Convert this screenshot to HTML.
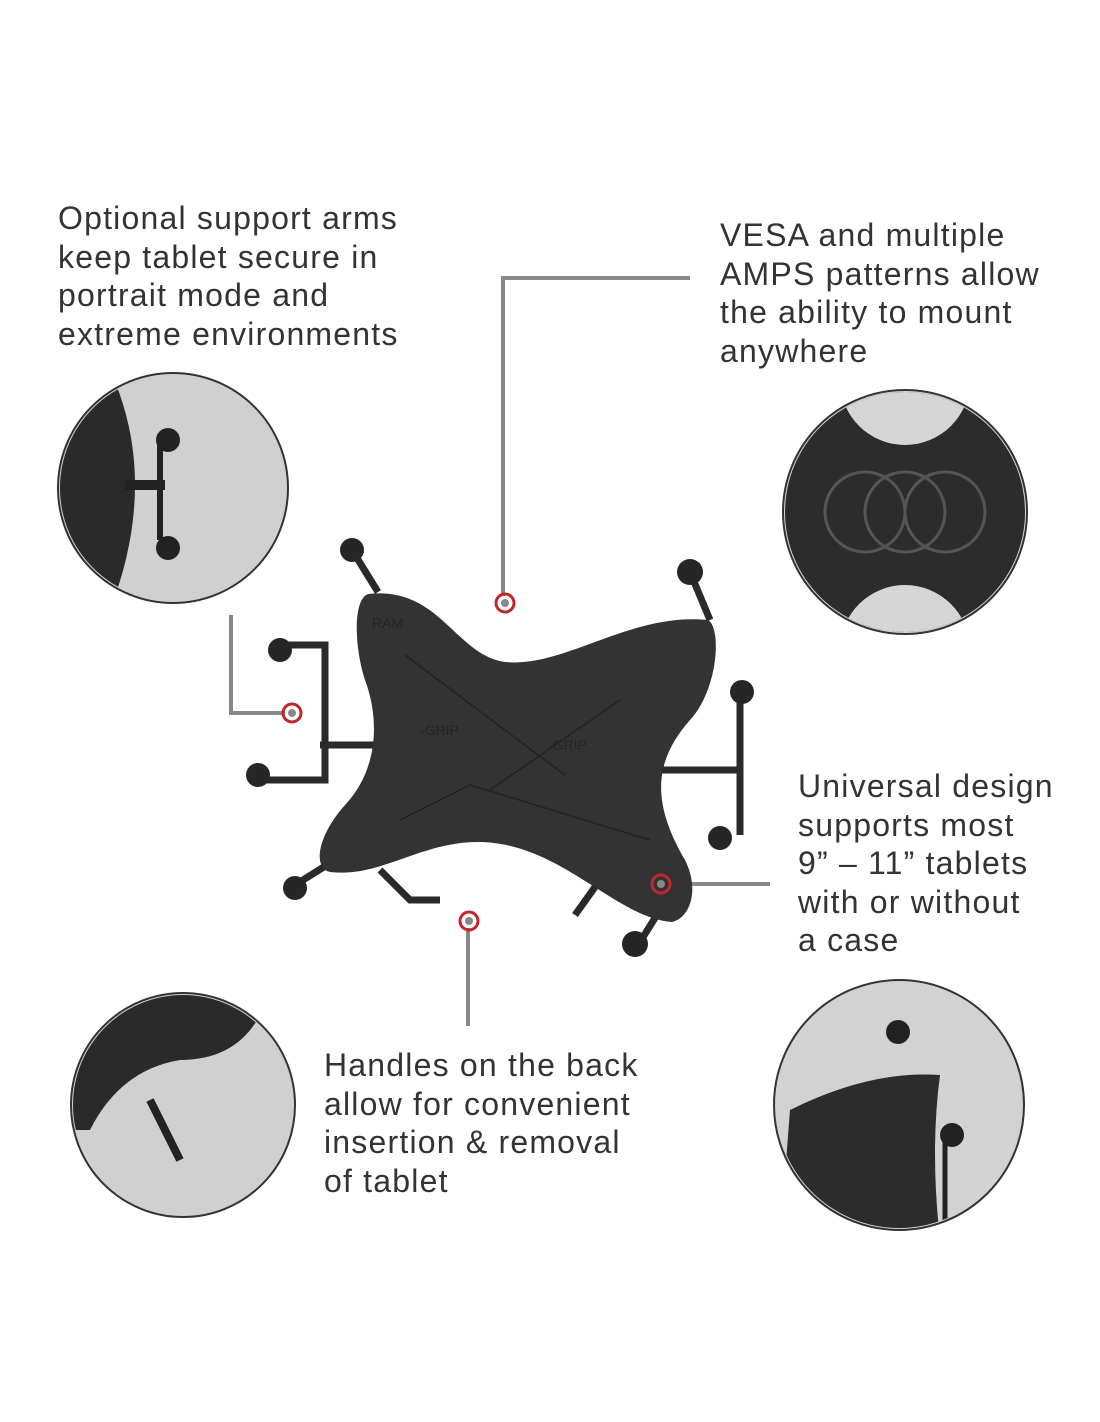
<!DOCTYPE html>
<html><head><meta charset="utf-8"><style>
body{margin:0;background:#fff;}
.w{position:relative;width:1100px;height:1422px;overflow:hidden;font-family:"Liberation Sans",Arial,sans-serif;}
.t{position:absolute;font-size:32px;letter-spacing:1.2px;line-height:38.5px;color:#333;}
</style></head><body><div class="w">
<div class="t" style="left:58px;top:199px">Optional support arms<br>keep tablet secure in<br>portrait mode and<br>extreme environments</div>
<div class="t" style="left:720px;top:216px">VESA and multiple<br>AMPS patterns allow<br>the ability to mount<br>anywhere</div>
<div class="t" style="left:798px;top:767px">Universal design<br>supports most<br>9” – 11” tablets<br>with or without<br>a case</div>
<div class="t" style="left:324px;top:1046px">Handles on the back<br>allow for convenient<br>insertion &amp; removal<br>of tablet</div>
<svg width="1100" height="1422" style="position:absolute;left:0;top:0">
<defs><clipPath id="c1"><circle cx="173" cy="488" r="113"/></clipPath>
<clipPath id="c2"><circle cx="905" cy="512" r="120"/></clipPath>
<clipPath id="c3"><circle cx="183" cy="1105" r="110"/></clipPath>
<clipPath id="c4"><circle cx="899" cy="1105" r="123"/></clipPath></defs>
<g stroke="#888" stroke-width="4" fill="none">
<path d="M690 278H503V596"/><path d="M231 615V713H285"/><path d="M668 884H770"/><path d="M468 928V1026"/>
</g>
<circle cx="173" cy="488" r="115" fill="#d0d0d0" stroke="#333" stroke-width="2"/>
<g clip-path="url(#c1)"><path d="M50 370H110Q160 480 110 610H50Z" fill="#2a2a2a"/>
<rect x="125" y="480" width="40" height="10" fill="#222"/><path d="M160 440V540" stroke="#222" stroke-width="6"/>
<circle cx="168" cy="440" r="12" fill="#222"/><circle cx="168" cy="548" r="12" fill="#222"/></g>
<circle cx="905" cy="512" r="122" fill="#d5d5d5" stroke="#333" stroke-width="2"/>
<g clip-path="url(#c2)"><rect x="780" y="390" width="250" height="250" fill="#2c2c2c"/>
<circle cx="905" cy="380" r="65" fill="#d5d5d5"/><circle cx="905" cy="650" r="65" fill="#d5d5d5"/>
<g fill="none" stroke="#555" stroke-width="3"><circle cx="865" cy="512" r="40"/><circle cx="945" cy="512" r="40"/><circle cx="905" cy="512" r="40"/></g></g>
<circle cx="183" cy="1105" r="112" fill="#d0d0d0" stroke="#333" stroke-width="2"/>
<g clip-path="url(#c3)"><path d="M70 990H270Q250 1060 180 1060Q120 1070 90 1130L70 1130Z" fill="#2a2a2a"/>
<path d="M150 1100L180 1160" stroke="#222" stroke-width="8"/></g>
<circle cx="899" cy="1105" r="125" fill="#d2d2d2" stroke="#333" stroke-width="2"/>
<g clip-path="url(#c4)"><path d="M790 1110Q870 1070 940 1075Q930 1150 940 1240H780Z" fill="#2c2c2c"/>
<circle cx="898" cy="1032" r="12" fill="#222"/><circle cx="952" cy="1135" r="12" fill="#222"/>
<path d="M945 1140V1230" stroke="#222" stroke-width="5"/></g>
<g stroke="#2a2a2a" stroke-width="7" fill="none">
<path d="M352 550L378 592"/><path d="M690 572L710 620"/>
<path d="M280 645H325V780H258"/><path d="M740 695V835"/>
<path d="M295 885L335 860"/><path d="M638 945L660 910"/>
<path d="M320 745H380"/><path d="M655 770H740"/>
<path d="M380 870L410 900H440"/><path d="M600 880L575 915"/>
</g>
<g fill="#262626">
<circle cx="352" cy="550" r="12"/><circle cx="690" cy="572" r="13"/>
<circle cx="280" cy="650" r="12"/><circle cx="258" cy="775" r="12"/>
<circle cx="742" cy="692" r="12"/><circle cx="720" cy="838" r="12"/>
<circle cx="295" cy="888" r="12"/><circle cx="635" cy="944" r="13"/>
</g>
<path d="M368 594C440 586 455 655 505 662C565 668 630 612 708 620C722 628 718 690 690 720C655 760 650 800 685 860C700 890 690 918 672 922C615 918 560 842 478 842C420 842 380 878 330 872C312 868 318 835 345 805C378 770 380 720 365 680C355 650 352 600 368 594Z" fill="#333"/>
<g stroke="#222" stroke-width="1.5" fill="none"><path d="M405 655L565 775M620 700L490 790M400 820L470 785L650 840"/></g>
<g font-size="14" fill="#252525" font-family="Liberation Sans,sans-serif"><text x="372" y="628">RAM</text><text x="548" y="750">-GRIP</text><text x="420" y="735">-GRIP</text></g>
<g fill="none" stroke="#c1272d" stroke-width="3"><circle cx="505" cy="603" r="9"/><circle cx="292" cy="713" r="9"/><circle cx="661" cy="884" r="9"/><circle cx="469" cy="921" r="9"/></g>
<g fill="#888"><circle cx="505" cy="603" r="4"/><circle cx="292" cy="713" r="4"/><circle cx="661" cy="884" r="4"/><circle cx="469" cy="921" r="4"/></g>
</svg>
</div></body></html>
